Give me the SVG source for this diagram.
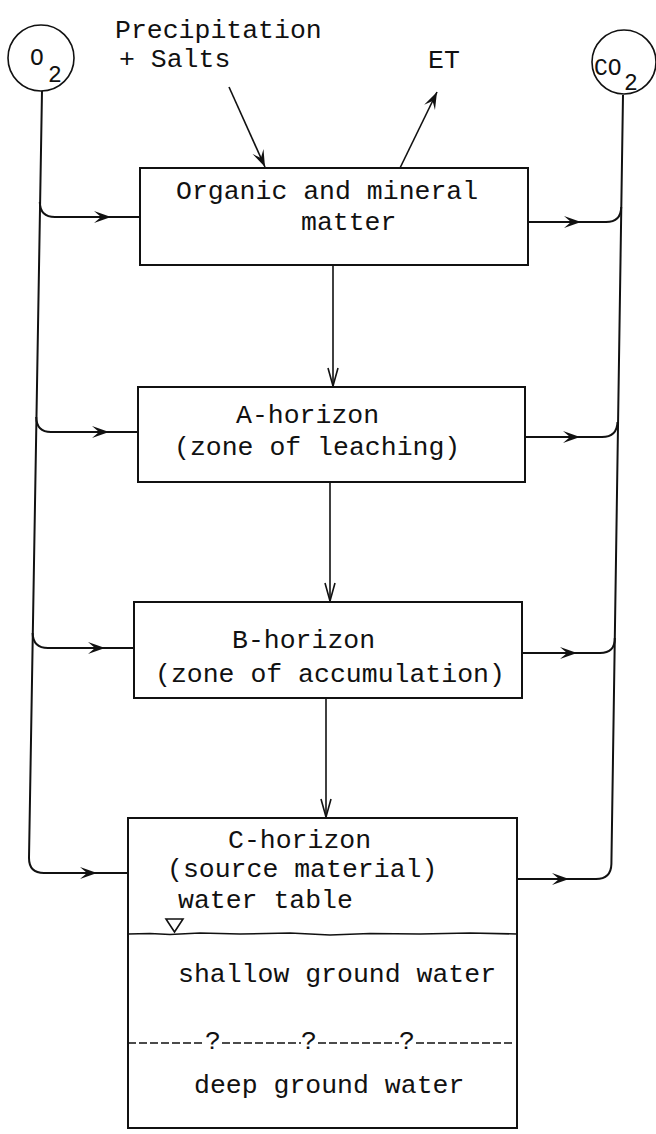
<svg xmlns="http://www.w3.org/2000/svg" width="656" height="1134" viewBox="0 0 656 1134">
  <style>
    .box { fill: none; stroke: #111; stroke-width: 2; }
    .ln { fill: none; stroke: #111; stroke-width: 2; }
    .thin { fill: none; stroke: #111; stroke-width: 1.6; }
    .lbl { font-family: "Liberation Mono", "DejaVu Sans Mono", monospace; font-size: 26.5px; fill: #111; }
    .gas { font-family: "Liberation Mono", "DejaVu Sans Mono", monospace; font-size: 23px; fill: #111; }
    .dash { fill: none; stroke: #111; stroke-width: 1.5; stroke-dasharray: 8 3; }
  </style>
  <defs>
    <!-- feathered arrowhead for the gas-exchange branches and diagonal inputs -->
    <marker id="barb" viewBox="-18 -8 20 16" refX="0" refY="0" markerWidth="20" markerHeight="16" markerUnits="userSpaceOnUse" orient="auto">
      <path d="M-17,-6 L0,0 L-17,6 L-10,0 Z" fill="#111"/>
    </marker>
    <!-- open vee arrowhead for the downward transfers -->
    <marker id="vee" viewBox="-20 -8 22 16" refX="0" refY="0" markerWidth="22" markerHeight="16" markerUnits="userSpaceOnUse" orient="auto">
      <path d="M-18,-5 L0,0 L-18,5" fill="none" stroke="#111" stroke-width="1.6"/>
    </marker>
  </defs>

  <!-- external inputs / outputs -->
  <g id="o2">
    <circle cx="41" cy="58" r="33" class="thin"/>
    <text x="30" y="65" class="gas">O</text>
    <text x="48" y="82" class="gas">2</text>
  </g>
  <g id="co2">
    <circle cx="624" cy="62" r="32" class="thin"/>
    <text x="594" y="75" class="gas">CO</text>
    <text x="624" y="90" class="gas">2</text>
  </g>
  <g id="precip">
    <text x="115" y="38" class="lbl">Precipitation</text>
    <text x="119" y="67" class="lbl">+ Salts</text>
  </g>
  <g id="et">
    <text x="428" y="68" class="lbl">ET</text>
  </g>

  <!-- soil compartments -->
  <g id="organic">
    <rect x="140" y="168" width="388" height="97" class="box"/>
    <text x="176" y="199" class="lbl">Organic and mineral</text>
    <text x="301" y="230" class="lbl">matter</text>
  </g>
  <g id="a-horizon">
    <rect x="138" y="387" width="387" height="95" class="box"/>
    <text x="236" y="423" class="lbl">A-horizon</text>
    <text x="174" y="455" class="lbl">(zone of leaching)</text>
  </g>
  <g id="b-horizon">
    <rect x="134" y="602" width="388" height="96" class="box"/>
    <text x="232" y="648" class="lbl">B-horizon</text>
    <text x="155" y="682" class="lbl">(zone of accumulation)</text>
  </g>
  <g id="c-horizon">
    <rect x="128" y="818" width="389" height="310" class="box"/>
    <text x="228" y="848" class="lbl">C-horizon</text>
    <text x="167" y="877" class="lbl">(source material)</text>
    <text x="178" y="908" class="lbl">water table</text>
    <!-- water table symbol and surface -->
    <path d="M166,919 L183,919 L174.5,932 Z" class="thin"/>
    <path d="M128,934 L150,933.5 L170,934.5 L200,933 L240,934 L290,933 L330,935 L370,933.5 L420,934 L470,933 L517,934" class="thin"/>
    <text x="178" y="982" class="lbl">shallow ground water</text>
    <!-- uncertain boundary between shallow and deep ground water -->
    <path d="M128,1043 H205 M222,1043 H301 M318,1043 H399 M416,1043 H515" class="dash"/>
    <text x="213" y="1049" class="lbl" text-anchor="middle">?</text>
    <text x="309" y="1049" class="lbl" text-anchor="middle">?</text>
    <text x="407" y="1049" class="lbl" text-anchor="middle">?</text>
    <text x="194" y="1093" class="lbl">deep ground water</text>
  </g>

  <g id="connectors">
    <!-- precipitation in, evapotranspiration out -->
    <path d="M229,87 L265,167" class="thin" marker-end="url(#barb)"/>
    <path d="M400,168 L437,92" class="thin" marker-end="url(#barb)"/>

    <!-- downward transfers between horizons -->
    <path d="M333,265 V386" class="thin" marker-end="url(#vee)"/>
    <path d="M330,482 V601" class="thin" marker-end="url(#vee)"/>
    <path d="M326,698 V817" class="thin" marker-end="url(#vee)"/>

    <!-- oxygen supply line with branches into each compartment -->
    <path d="M42,91 L29,858 Q29,873 44,873 H128" class="ln"/>
    <path d="M39.8,202 Q40,217 55,217 H140" class="ln"/>
    <path d="M36.2,417 Q36.5,432 51,432 H138" class="ln"/>
    <path d="M32.6,633 Q33,648 48,648 H134" class="ln"/>
    <path d="M95,217 H111" class="ln" marker-end="url(#barb)"/>
    <path d="M92,432 H109" class="ln" marker-end="url(#barb)"/>
    <path d="M88,648 H105" class="ln" marker-end="url(#barb)"/>
    <path d="M80,873 H97" class="ln" marker-end="url(#barb)"/>

    <!-- carbon dioxide return line collecting from each compartment -->
    <path d="M623,95 L611.4,864 Q611,879 596,879 H517" class="ln"/>
    <path d="M528,222 H606 Q621,222 621.2,207" class="ln"/>
    <path d="M525,437 H602 Q617,437 617.5,422" class="ln"/>
    <path d="M522,653 H600 Q615,653 614.8,638" class="ln"/>
    <path d="M563,222 H581" class="ln" marker-end="url(#barb)"/>
    <path d="M562,437 H580" class="ln" marker-end="url(#barb)"/>
    <path d="M559,653 H577" class="ln" marker-end="url(#barb)"/>
    <path d="M551,879 H569" class="ln" marker-end="url(#barb)"/>
  </g>
</svg>
